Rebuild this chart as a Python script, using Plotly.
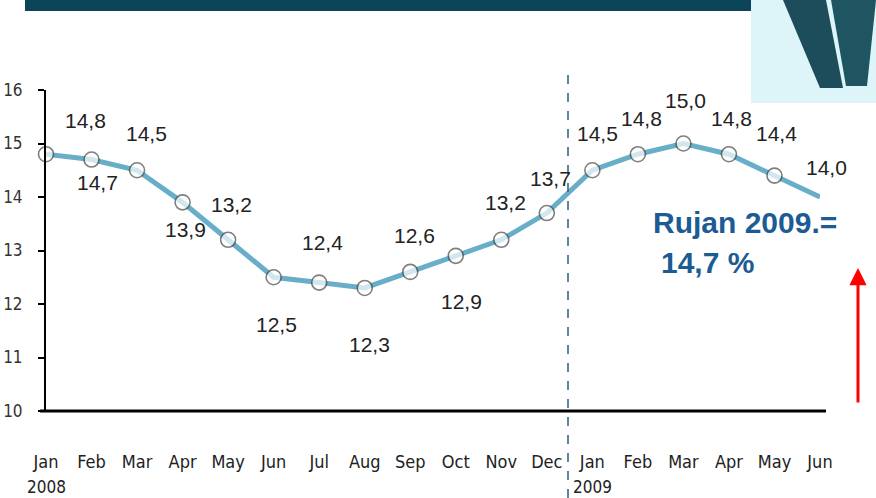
import plotly.graph_objects as go

months = ["Jan", "Feb", "Mar", "Apr", "May", "Jun", "Jul", "Aug", "Sep", "Oct", "Nov", "Dec",
          "Jan", "Feb", "Mar", "Apr", "May", "Jun"]
years = ["2008", "2009"]
year_start_index = [0, 12]
values = [14.8, 14.7, 14.5, 13.9, 13.2, 12.5, 12.4, 12.3, 12.6, 12.9, 13.2, 13.7,
          14.5, 14.8, 15.0, 14.8, 14.4, 14.0]
y_ticks = [10, 11, 12, 13, 14, 15, 16]

# label offsets (pixels) for the value labels
label_dx = [39, 6, 9, 3, 3, 3, 3, 5, 4, 6, 4, 4, 5, 4, 2, 3, 2, 6]
label_dy = [34, -23, 37, -27, 35, -47, 40, -57, 36, -46, 37, 35, 37, 36, 43, 36, 42, 30]

W, H = 876, 498
L, R, T, B = 46, 56, 90, 87
PW, PH = W - L - R, H - T - B


def px(x):
    return (x - L) / PW


def py(y):
    return (H - B - y) / PH


x_idx = list(range(len(months)))

fig = go.Figure()
fig.add_trace(go.Scatter(
    x=x_idx, y=values, mode="lines+markers",
    line=dict(color="#68aec8", width=5),
    marker=dict(size=[15] * (len(values) - 1) + [0], color="white",
                line=dict(color="#4a4a4a", width=1.6)),
    cliponaxis=False, hoverinfo="skip", showlegend=False,
))

annotations = []
for i, v in enumerate(values):
    annotations.append(dict(
        x=i, y=v, xref="x", yref="y", text=f"{v:.1f}".replace(".", ","),
        showarrow=False, xshift=label_dx[i], yshift=label_dy[i],
        font=dict(family="Liberation Sans, Arial, sans-serif", size=21, color="#222222"),
    ))
for yr, idx in zip(years, year_start_index):
    annotations.append(dict(
        x=idx, y=py(487), xref="x", yref="paper", text=yr, showarrow=False,
        xanchor="left", yanchor="middle", xshift=-21,
        font=dict(family="Liberation Sans Narrow, DejaVu Sans Condensed, Arial Narrow, sans-serif",
                  size=17, color="#222222"),
    ))
annotations.append(dict(
    x=px(651), y=py(222), xref="paper", yref="paper", text="<b>Rujan 2009.=</b>",
    showarrow=False, xanchor="left", yanchor="middle",
    font=dict(family="Liberation Sans, Arial, sans-serif", size=30, color="#1d5b94"),
))
annotations.append(dict(
    x=px(659), y=py(262), xref="paper", yref="paper", text="<b>14,7 %</b>",
    showarrow=False, xanchor="left", yanchor="middle",
    font=dict(family="Liberation Sans, Arial, sans-serif", size=30, color="#1d5b94"),
))
annotations.append(dict(
    x=px(858), y=py(268), xref="paper", yref="paper", text="",
    showarrow=True, ax=0, ay=136, arrowcolor="#ff0000", arrowwidth=3,
    arrowhead=2, arrowsize=1.15,
))

shapes = [
    # top bar
    dict(type="rect", xref="paper", yref="paper", x0=px(25), x1=px(751), y0=py(11), y1=py(0),
         fillcolor="#0c4459", line=dict(width=0), layer="above"),
    # top-right picture
    dict(type="rect", xref="paper", yref="paper", x0=px(751), x1=px(876), y0=py(103), y1=py(0),
         fillcolor="#ddf4f9", line=dict(width=0), layer="above"),
    dict(type="path", xref="paper", yref="paper",
         path=f"M {px(783)},{py(0)} L {px(826)},{py(0)} L {px(843)},{py(88)} L {px(820)},{py(88)} Z",
         fillcolor="#1d4d5a", line=dict(width=0), layer="above"),
    dict(type="path", xref="paper", yref="paper",
         path=f"M {px(831)},{py(0)} L {px(876)},{py(0)} L {px(867)},{py(86)} L {px(846)},{py(86)} Z",
         fillcolor="#1f5560", line=dict(width=0), layer="above"),
    # x axis line
    dict(type="line", xref="paper", yref="paper", x0=px(40), x1=px(826), y0=0, y1=0,
         line=dict(color="black", width=3), layer="above"),
    # year separator
    dict(type="line", xref="paper", yref="paper", x0=px(568), x1=px(568), y0=py(498), y1=py(68),
         line=dict(color="#2b6078", width=1.5, dash="dash"), layer="above"),
]

fig.update_layout(
    width=W, height=H,
    margin=dict(l=L, r=R, t=T, b=B, autoexpand=False),
    paper_bgcolor="white", plot_bgcolor="white",
    showlegend=False,
    xaxis=dict(
        range=[0, len(months) - 1], tickmode="array", tickvals=x_idx, ticktext=months,
        showgrid=False, zeroline=False, showline=False, ticks="",
        ticklabelstandoff=38, automargin=False,
        tickfont=dict(family="Liberation Sans Narrow, DejaVu Sans Condensed, Arial Narrow, sans-serif",
                      size=18, color="#222222"),
        fixedrange=True,
    ),
    yaxis=dict(
        range=[10, 16], tickmode="array", tickvals=y_ticks,
        showgrid=False, zeroline=False, showline=True, linecolor="black", linewidth=2,
        ticks="outside", ticklen=6, tickwidth=2, tickcolor="black",
        ticklabelstandoff=12, automargin=False,
        tickfont=dict(family="Liberation Sans Narrow, DejaVu Sans Condensed, Arial Narrow, sans-serif",
                      size=17, color="#333333"),
        fixedrange=True,
    ),
    annotations=annotations,
    shapes=shapes,
)

fig.write_html("out.html", config={"displayModeBar": False},
               post_script="document.body.style.margin='0';document.body.style.overflow='hidden';")
